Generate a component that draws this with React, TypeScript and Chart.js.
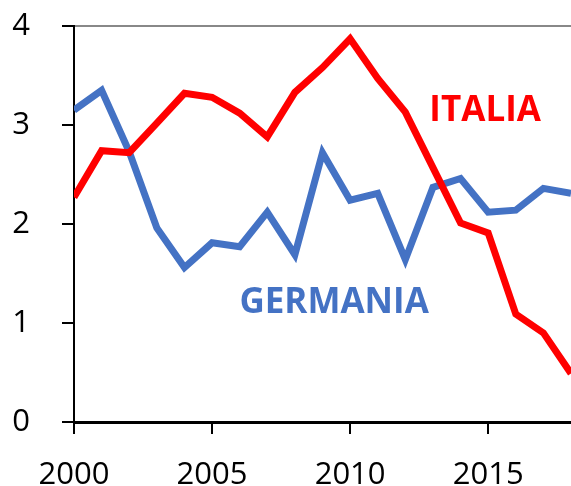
import React, { useEffect, useRef } from "react";
import { Chart, registerables } from "chart.js";

Chart.register(...registerables);

const YEARS = [2000, 2001, 2002, 2003, 2004, 2005, 2006, 2007, 2008, 2009, 2010, 2011, 2012, 2013, 2014, 2015, 2016, 2017, 2018];
const ITALIA = [2.27, 2.74, 2.72, 3.02, 3.32, 3.28, 3.12, 2.88, 3.33, 3.58, 3.87, 3.47, 3.13, 2.57, 2.01, 1.91, 1.09, 0.9, 0.49];
const GERMANIA = [3.15, 3.35, 2.73, 1.96, 1.56, 1.81, 1.77, 2.12, 1.69, 2.72, 2.24, 2.31, 1.64, 2.37, 2.46, 2.12, 2.14, 2.36, 2.31];
const X_TICKS = [2000, 2005, 2010, 2015];
const Y_TICKS = [0, 1, 2, 3, 4];
const SERIES_LABELS = ["ITALIA", "GERMANIA"];
const LABEL_POS = [
  { x: 2014.89, y: 3.14 },
  { x: 2009.42, y: 1.2 },
];

const RED = "#FF0000";
const BLUE = "#4472C4";
const FONT = "'Open Sans', 'Liberation Sans', sans-serif";

const labelPlugin = {
  id: "seriesLabels",
  afterDatasetsDraw(chart: any) {
    const { ctx, scales } = chart;
    const colors = [RED, BLUE];
    ctx.save();
    ctx.font = `bold 35px ${FONT}`;
    ctx.textAlign = "center";
    ctx.textBaseline = "middle";
    SERIES_LABELS.forEach((t, i) => {
      ctx.fillStyle = colors[i];
      ctx.fillText(t, scales.x.getPixelForValue(LABEL_POS[i].x), scales.y.getPixelForValue(LABEL_POS[i].y));
    });
    ctx.restore();
  },
};

export default function App() {
  const ref = useRef<HTMLCanvasElement>(null);
  useEffect(() => {
    if (!ref.current) return;
    const chart = new Chart(ref.current, {
      type: "line",
      data: {
        datasets: [
          {
            label: SERIES_LABELS[0],
            data: YEARS.map((y, i) => ({ x: y, y: ITALIA[i] })),
            borderColor: RED,
            backgroundColor: RED,
            borderWidth: 7,
            pointRadius: 0,
            tension: 0,
          },
          {
            label: SERIES_LABELS[1],
            data: YEARS.map((y, i) => ({ x: y, y: GERMANIA[i] })),
            borderColor: BLUE,
            backgroundColor: BLUE,
            borderWidth: 7,
            pointRadius: 0,
            tension: 0,
          },
        ],
      },
      options: {
        animation: false,
        responsive: true,
        maintainAspectRatio: false,
        layout: { padding: { top: 26, right: 0, left: 0, bottom: 0 } },
        plugins: { legend: { display: false }, tooltip: { enabled: false } },
        scales: {
          x: {
            type: "linear",
            min: 2000,
            max: 2018,
            afterBuildTicks: (s: any) => {
              s.ticks = X_TICKS.map((v) => ({ value: v }));
            },
            afterFit: (s: any) => {
              s.height = 64;
              s.paddingLeft = 0;
              s.paddingRight = 0;
            },
            grid: {
              color: "transparent",
              tickColor: "#000",
              tickLength: 12,
              drawOnChartArea: false,
              lineWidth: 2,
            },
            border: { color: "#000", width: 3 },
            ticks: {
              color: "#000",
              font: { family: FONT, size: 31 },
              padding: 23,
              maxRotation: 0,
              callback: (v: any) => String(v),
            },
          },
          y: {
            min: 0,
            max: 4,
            afterBuildTicks: (s: any) => {
              s.ticks = Y_TICKS.map((v) => ({ value: v }));
            },
            afterFit: (s: any) => {
              s.width = 74;
              s.paddingTop = 0;
              s.paddingBottom = 0;
            },
            grid: {
              color: (c: any) => (c.tick && c.tick.value === 4 ? "#888" : "transparent"),
              tickColor: "#000",
              tickLength: 12,
              lineWidth: 2,
            },
            border: { color: "#000", width: 2 },
            ticks: {
              color: "#000",
              font: { family: FONT, size: 31 },
              padding: 32,
              callback: (v: any) => String(v),
            },
          },
        },
      },
      plugins: [labelPlugin],
    });
    return () => chart.destroy();
  }, []);
  return (
    <div style={{ position: "fixed", left: 0, top: 0, width: 571, height: 486, background: "#fff" }}>
      <canvas ref={ref} />
    </div>
  );
}
